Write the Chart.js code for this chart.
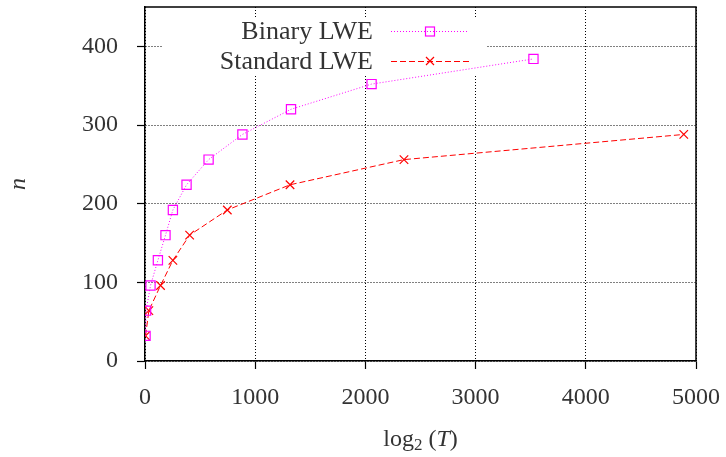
<!DOCTYPE html>
<html>
<head>
<meta charset="utf-8">
<script src="https://cdn.jsdelivr.net/npm/chart.js@4/dist/chart.umd.min.js"></script>
<style>
  html, body { margin: 0; padding: 0; background: #fff; }
  #wrap { width: 726px; height: 457px; }
</style>
</head>
<body>
<div id="wrap"><canvas id="lweChart" width="726" height="457"></canvas></div>
<script>
// n 对 log2(T) 的两条曲线
const binaryN = [32, 64, 96, 128, 160, 192, 224, 256, 288, 320, 352, 384];
const binaryLogT = [5, 10, 50, 117, 186, 253, 377, 577, 884, 1325, 2056, 3525];
const standardN = [32, 64, 96, 128, 160, 192, 224, 256, 288];
const standardLogT = [5, 35, 141, 253, 405, 747, 1316, 2350, 4889];
const seriesLabels = ['Binary LWE', 'Standard LWE'];
const xTicks = [0, 1000, 2000, 3000, 4000, 5000];
const yTicks = [0, 100, 200, 300, 400];

const SERIF = '"Liberation Serif", "DejaVu Serif", serif';
const MAGENTA = '#ff00ff';
const RED = '#ff0000';

function toPoints(xs, ys) {
  return xs.map((x, i) => ({ x: x, y: ys[i] }));
}

// 去掉刻度标签带来的自动留白
function noPadding(scale) {
  scale.paddingTop = 0;
  scale.paddingBottom = 0;
  scale.paddingLeft = 0;
  scale.paddingRight = 0;
}

// 自定义图例、上/右边框和 x 轴标题
const framePlugin = {
  id: 'frame',
  beforeDatasetsDraw(chart) {
    const { ctx } = chart;
    ctx.save();
    ctx.fillStyle = '#fff';
    ctx.fillRect(163, 18, 324, 57);
    ctx.restore();
  },
  afterDatasetsDraw(chart) {
    const { ctx, chartArea } = chart;
    ctx.save();
    // 边框
    ctx.strokeStyle = '#000';
    ctx.lineWidth = 1.5;
    ctx.beginPath();
    ctx.moveTo(chartArea.left, chartArea.top);
    ctx.lineTo(chartArea.right, chartArea.top);
    ctx.lineTo(chartArea.right, chartArea.bottom);
    ctx.stroke();

    // 图例
    const rows = [
      { label: seriesLabels[0], color: MAGENTA, dash: [1, 2], marker: 'rect', y: 31 },
      { label: seriesLabels[1], color: RED, dash: [6, 3], marker: 'cross', y: 61 },
    ];
    ctx.font = '26px ' + SERIF;
    ctx.fillStyle = '#333';
    ctx.textAlign = 'right';
    ctx.textBaseline = 'middle';
    rows.forEach((r) => {
      ctx.fillText(r.label, 373, r.y + 1);
      ctx.strokeStyle = r.color;
      ctx.lineWidth = 1;
      ctx.setLineDash(r.dash);
      ctx.beginPath();
      ctx.moveTo(391, r.y + 0.5);
      ctx.lineTo(469, r.y + 0.5);
      ctx.stroke();
      ctx.setLineDash([]);
      ctx.lineWidth = 1.2;
      if (r.marker === 'rect') {
        ctx.strokeRect(425.5, r.y - 4, 9, 9);
      } else {
        ctx.beginPath();
        ctx.moveTo(426, r.y - 4);
        ctx.lineTo(434, r.y + 4);
        ctx.moveTo(434, r.y - 4);
        ctx.lineTo(426, r.y + 4);
        ctx.stroke();
      }
    });

    // x 轴标题 log2 (T)
    const cx = (chartArea.left + chartArea.right) / 2;
    const ty = 440;
    const parts = [
      { t: 'log', font: '24px ' + SERIF, dy: 0 },
      { t: '2', font: '17px ' + SERIF, dy: 6 },
      { t: ' (', font: '24px ' + SERIF, dy: 0 },
      { t: 'T', font: 'italic 24px ' + SERIF, dy: 0 },
      { t: ')', font: '24px ' + SERIF, dy: 0 },
    ];
    let total = 0;
    parts.forEach((p) => { ctx.font = p.font; p.w = ctx.measureText(p.t).width; total += p.w; });
    let x = cx - total / 2;
    ctx.textAlign = 'left';
    ctx.textBaseline = 'middle';
    ctx.fillStyle = '#333';
    parts.forEach((p) => {
      ctx.font = p.font;
      ctx.fillText(p.t, x, ty + p.dy);
      x += p.w;
    });
    ctx.restore();
  },
};

function createChart(ctx) {
  return new Chart(ctx, {
    type: 'line',
    data: {
      datasets: [
        {
          label: seriesLabels[0],
          data: toPoints(binaryLogT, binaryN),
          borderColor: MAGENTA,
          borderWidth: 1,
          borderDash: [1, 2],
          pointStyle: 'rect',
          pointRadius: 6.5,
          pointBorderWidth: 1.2,
          pointBorderColor: MAGENTA,
          pointBackgroundColor: 'rgba(0,0,0,0)',
          fill: false,
          tension: 0,
        },
        {
          label: seriesLabels[1],
          data: toPoints(standardLogT, standardN),
          borderColor: RED,
          borderWidth: 1,
          borderDash: [6, 3],
          pointStyle: 'crossRot',
          pointRadius: 6,
          pointBorderWidth: 1.2,
          pointBorderColor: RED,
          pointBackgroundColor: RED,
          fill: false,
          tension: 0,
        },
      ],
    },
    options: {
      responsive: false,
      animation: false,
      events: [],
      layout: { autoPadding: false, padding: { top: 7, right: 30, left: 0, bottom: 0 } },
      plugins: { legend: { display: false }, tooltip: { enabled: false } },
      scales: {
        x: {
          type: 'linear',
          min: 0,
          max: 5000,
          afterBuildTicks: (scale) => { scale.ticks = xTicks.map((v) => ({ value: v })); },
          afterFit: (scale) => { scale.height = 96; noPadding(scale); },
          grid: {
            color: '#000',
            lineWidth: 1,
            tickLength: 8,
            tickColor: '#000',
            tickWidth: 1.2,
            tickBorderDash: [],
          },
          border: { display: true, color: '#000', width: 1.5, dash: [1, 2] },
          ticks: {
            padding: 14,
            color: '#333',
            font: { family: SERIF, size: 24 },
            maxRotation: 0,
            callback: (v) => String(v),
          },
        },
        y: {
          min: 0,
          max: 450,
          afterBuildTicks: (scale) => { scale.ticks = yTicks.map((v) => ({ value: v })); },
          afterFit: (scale) => { scale.width = 145; noPadding(scale); },
          grid: {
            color: '#000',
            lineWidth: 1,
            tickLength: 8,
            tickColor: '#000',
            tickWidth: 1.2,
            tickBorderDash: [],
          },
          border: { display: true, color: '#000', width: 1.5, dash: [1, 2] },
          ticks: {
            padding: 19,
            color: '#333',
            font: { family: SERIF, size: 24 },
            callback: (v) => String(v),
          },
          title: {
            display: true,
            text: 'n',
            color: '#333',
            font: { family: SERIF, size: 24, style: 'italic' },
            padding: { top: 4, bottom: 0 },
          },
        },
      },
    },
    plugins: [framePlugin],
  });
}

window.addEventListener('DOMContentLoaded', () => {
  createChart(document.getElementById('lweChart'));
});
</script>
</body>
</html>
